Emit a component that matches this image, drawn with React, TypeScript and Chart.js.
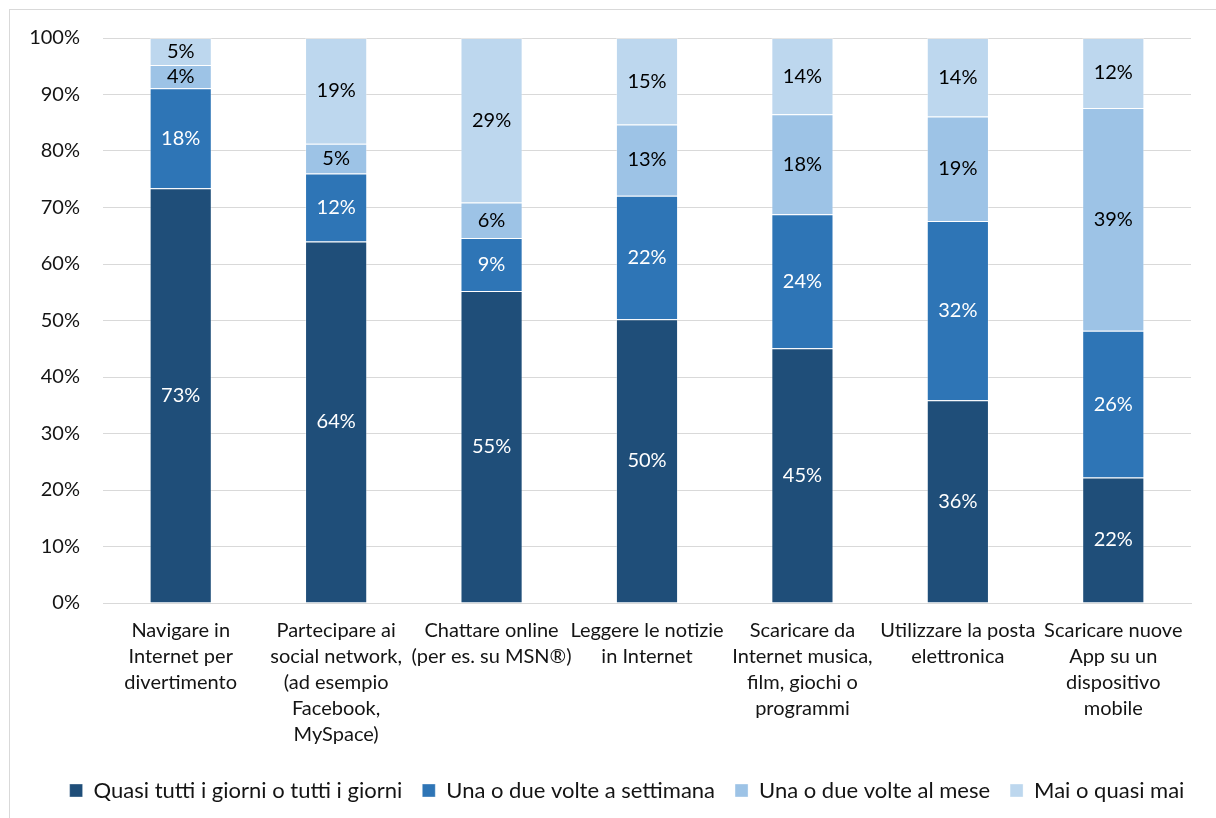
import React, { useEffect, useRef } from "react";
import { Chart, registerables } from "chart.js";

Chart.register(...registerables);

// Activities (x-axis categories), split over lines as they are printed
const categories: string[][] = [
  ["Navigare in", "Internet per", "divertimento"],
  ["Partecipare ai", "social network,", "(ad esempio", "Facebook,", "MySpace)"],
  ["Chattare online", "(per es. su MSN®)"],
  ["Leggere le notizie", "in Internet"],
  ["Scaricare da", "Internet musica,", "film, giochi o", "programmi"],
  ["Utilizzare la posta", "elettronica"],
  ["Scaricare nuove", "App su un", "dispositivo", "mobile"],
];

const seriesNames: string[] = [
  "Quasi tutti i giorni o tutti i giorni",
  "Una o due volte a settimana",
  "Una o due volte al mese",
  "Mai o quasi mai",
];

// Shares in percent for each frequency
const quasiTuttiIGiorni: number[] = [73.4, 64.0, 55.2, 50.2, 45.1, 35.9, 22.2];
const unaODueASettimana: number[] = [17.7, 12.0, 9.4, 21.9, 23.7, 31.7, 26.0];
const unaODueAlMese: number[] = [4.1, 5.3, 6.3, 12.6, 17.7, 18.5, 39.4];
const maiOQuasiMai: number[] = [4.8, 18.7, 29.1, 15.3, 13.5, 13.9, 12.4];

const yTickValues: number[] = [0, 10, 20, 30, 40, 50, 60, 70, 80, 90, 100];

const FONT = "Lato, 'Open Sans', sans-serif";
const TEXT = "#141414";

const seriesColors = ["#1F4E79", "#2E75B6", "#9DC3E6", "#BDD7EE"];
const labelColors = ["#ffffff", "#ffffff", "#000000", "#000000"];

// Writes each segment's rounded share in the middle of the segment
const segmentLabels = {
  id: "segmentLabels",
  afterDatasetsDraw(chart: any) {
    const ctx = chart.ctx;
    ctx.save();
    ctx.font = `20px ${FONT}`;
    ctx.textAlign = "center";
    ctx.textBaseline = "middle";
    chart.data.datasets.forEach((ds: any, di: number) => {
      const meta = chart.getDatasetMeta(di);
      if (meta.hidden) return;
      meta.data.forEach((bar: any, i: number) => {
        const v = ds.data[i] as number;
        const { x, y, base } = bar.getProps(["x", "y", "base"], true);
        ctx.fillStyle = labelColors[di];
        ctx.fillText(`${Math.round(v)}%`, x, (y + base) / 2);
      });
    });
    ctx.restore();
  },
};

// Widens the legend box symmetrically about x = 627 so the single row stays
// on one line and is centred under the frame rather than the canvas
const legendOffset = {
  id: "legendOffset",
  afterLayout(chart: any) {
    const lg = chart.legend;
    if (!lg) return;
    lg.right = 1240;
    lg.left = 2 * 627 - lg.right;
    lg.width = lg.right - lg.left;
  },
};

export default function App() {
  const canvasRef = useRef<HTMLCanvasElement | null>(null);

  useEffect(() => {
    if (!canvasRef.current) return;
    const seriesData = [quasiTuttiIGiorni, unaODueASettimana, unaODueAlMese, maiOQuasiMai];
    const chart = new Chart(canvasRef.current, {
      type: "bar",
      data: {
        labels: categories,
        datasets: seriesData.map((values, i) => ({
          label: seriesNames[i],
          data: values,
          backgroundColor: seriesColors[i],
          borderColor: "rgba(255,255,255,0.35)",
          borderWidth: 1,
          barPercentage: 0.4,
          categoryPercentage: 1,
        })),
      },
      options: {
        responsive: false,
        animation: false,
        events: [],
        layout: { padding: { top: 38, right: 25, left: 0, bottom: 6.5 } },
        plugins: {
          tooltip: { enabled: false },
          legend: {
            position: "bottom",
            align: "center",
            labels: {
              boxWidth: 13,
              boxHeight: 13,
              padding: 20,
              color: TEXT,
              font: { family: FONT, size: 22 },
            },
          },
        },
        scales: {
          x: {
            stacked: true,
            grid: { display: false, drawTicks: false },
            border: { display: true, color: "#d9d9d9", width: 1 },
            ticks: {
              color: TEXT,
              font: { family: FONT, size: 20, lineHeight: 1.3 },
              padding: 15,
              maxRotation: 0,
              minRotation: 0,
              autoSkip: false,
            },
            afterFit: (scale: any) => {
              scale.height = 156.5;
            },
          },
          y: {
            stacked: true,
            min: 0,
            max: 100,
            grid: { color: "#d9d9d9", lineWidth: 1, drawTicks: false },
            border: { display: false },
            afterBuildTicks: (scale: any) => {
              scale.ticks = yTickValues.map((v) => ({ value: v }));
            },
            ticks: {
              color: TEXT,
              font: { family: FONT, size: 20 },
              padding: 23,
              callback: (v: any) => `${v}%`,
            },
            afterFit: (scale: any) => {
              scale.width = 103;
            },
          },
        },
      },
      plugins: [segmentLabels, legendOffset],
    });
    return () => chart.destroy();
  }, []);

  return (
    <div
      style={{
        position: "absolute",
        left: 0,
        top: 0,
        width: 1216,
        height: 818,
        overflow: "hidden",
        background: "#ffffff",
      }}
    >
      <div
        style={{
          position: "absolute",
          left: 9,
          top: 9,
          width: 1240,
          height: 840,
          border: "1px solid #d9d9d9",
          boxSizing: "border-box",
        }}
      />
      <canvas
        ref={canvasRef}
        width={1216}
        height={818}
        style={{ position: "absolute", left: 0, top: 0 }}
      />
    </div>
  );
}
